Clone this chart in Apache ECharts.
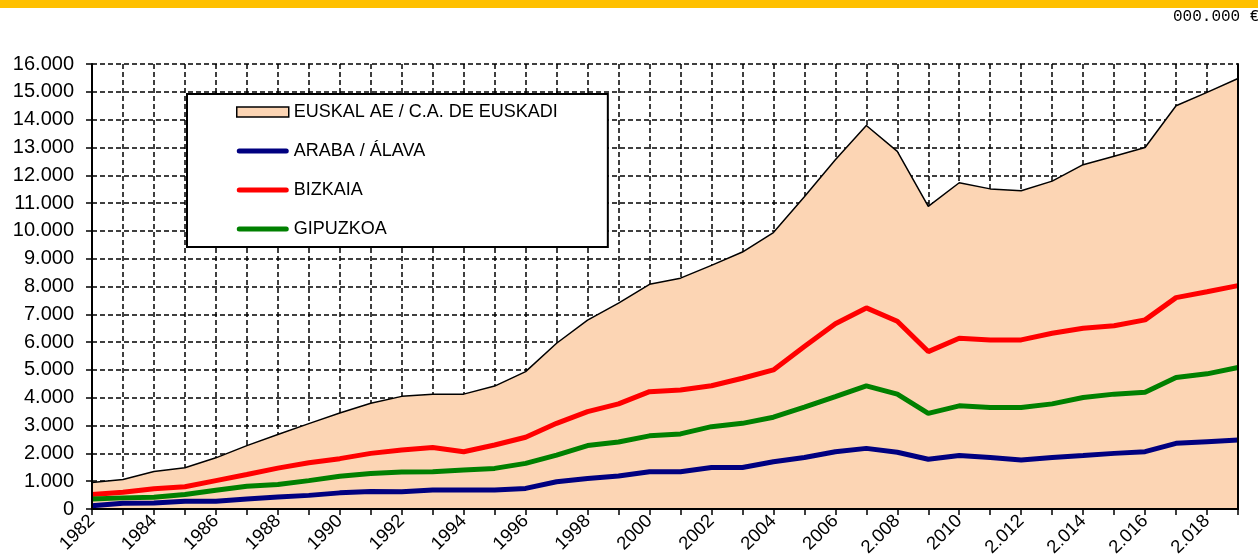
<!DOCTYPE html>
<html>
<head>
<meta charset="utf-8">
<script src="https://cdn.jsdelivr.net/npm/echarts@6/dist/echarts.min.js"></script>
<style>
html,body{margin:0;padding:0;background:#fff;}
#chart{width:1258px;height:560px;}
</style>
</head>
<body>
<div id="chart"></div>
<script>
// Categories (years) as displayed on the axis
var categories = ['1982','1983','1984','1985','1986','1987','1988','1989','1990','1991',
  '1992','1993','1994','1995','1996','1997','1998','1999','2000','2001',
  '2002','2003','2004','2005','2006','2007','2.008','2009','2010','2011',
  '2.012','2013','2.014','2015','2.016','2017','2.018','2019'];

var yTickLabels = ['0','1.000','2.000','3.000','4.000','5.000','6.000','7.000','8.000',
  '9.000','10.000','11.000','12.000','13.000','14.000','15.000','16.000'];

var seriesNames = ['EUSKAL AE / C.A. DE EUSKADI','ARABA / ÁLAVA','BIZKAIA','GIPUZKOA'];

var euskadi = [950,1060,1350,1480,1840,2280,2680,3070,3450,3800,
  4050,4130,4130,4420,4940,5960,6790,7400,8080,8300,
  8760,9240,9940,11230,12560,13790,12860,10880,11730,11510,
  11440,11790,12380,12680,13000,14500,14980,15480];

var araba = [120,210,215,280,280,360,430,490,580,630,
  620,680,680,680,740,980,1100,1190,1340,1340,
  1490,1490,1700,1850,2060,2180,2040,1790,1920,1850,
  1760,1850,1920,2000,2060,2360,2420,2480];

var bizkaia = [520,600,730,800,1020,1240,1470,1660,1810,2000,
  2120,2210,2060,2300,2580,3080,3500,3780,4220,4280,
  4430,4700,5000,5840,6660,7230,6750,5660,6140,6080,
  6080,6320,6500,6590,6800,7600,7810,8030];

var gipuzkoa = [360,400,420,520,675,820,880,1020,1180,1280,
  1330,1340,1400,1460,1640,1940,2280,2410,2630,2700,
  2960,3080,3300,3660,4040,4430,4130,3440,3710,3650,
  3650,3780,4010,4130,4200,4730,4860,5090];

var FONT = '"Liberation Sans", Arial, sans-serif';
var chart = echarts.init(document.getElementById('chart'), null, {renderer:'canvas'});

var dashed = {show:true, lineStyle:{color:'#000', width:1.5, type:[5,3]}};
var lineIcon = 'path://M2.5,0 L49.5,0 A2.5,2.5 0 0 1 49.5,5 L2.5,5 A2.5,2.5 0 0 1 2.5,0 Z';

var option = {
  animation:false,
  backgroundColor:'#fff',
  textStyle:{fontFamily:FONT, color:'#000'},
  graphic:[
    {type:'rect', left:0, top:0, shape:{width:1258, height:8}, style:{fill:'#FFC000'}},
    {type:'text', left:1173, top:9, style:{text:'000.000 €', font:'normal 16px "Liberation Mono", monospace', fill:'#000'}}
  ],
  grid:{left:92, right:20, top:64, bottom:51, containLabel:false},
  legend:{
    orient:'vertical', left:187, top:94,
    padding:[8,50,8,49],
    itemWidth:52, itemHeight:10, itemGap:19,
    borderColor:'#000', borderWidth:2, backgroundColor:'#fff',
    textStyle:{fontSize:18, color:'#000', fontFamily:FONT, lineHeight:20},
    data:[
      {name:seriesNames[0], icon:'rect', itemStyle:{color:'#FCD5B4', borderColor:'#000', borderWidth:1.5}},
      {name:seriesNames[1], icon:lineIcon, itemStyle:{color:'#000080'}},
      {name:seriesNames[2], icon:lineIcon, itemStyle:{color:'#FF0000'}},
      {name:seriesNames[3], icon:lineIcon, itemStyle:{color:'#008000'}}
    ]
  },
  xAxis:[
    {type:'category', data:categories, boundaryGap:false, position:'bottom', z:5,
      axisLine:{show:true, lineStyle:{color:'#000', width:2}},
      axisTick:{show:true, interval:0, length:6, lineStyle:{color:'#000', width:1.5}},
      axisLabel:{interval:1, rotate:45, fontSize:18.5, color:'#000', margin:9, fontFamily:FONT},
      splitLine:{show:false}},
    {type:'category', data:categories, boundaryGap:false, position:'top', z:0,
      axisLine:{show:true, lineStyle:{color:'#000', width:2}},
      axisTick:{show:false}, axisLabel:{show:false},
      splitLine:{show:true, interval:0, lineStyle:{color:'#000', width:1.5, type:[5,3]}}}
  ],
  yAxis:[
    {type:'value', min:0, max:16000, interval:1000, position:'left', z:5,
      axisLine:{show:true, lineStyle:{color:'#000', width:2}},
      axisTick:{show:true, length:6, lineStyle:{color:'#000', width:1.5}},
      axisLabel:{fontSize:20, color:'#000', margin:18, fontFamily:FONT,
        formatter:function(v){ return yTickLabels[Math.round(v/1000)]; }},
      splitLine:{show:false}},
    {type:'value', min:0, max:16000, interval:1000, position:'right', z:5,
      axisLine:{show:true, lineStyle:{color:'#000', width:2}},
      axisTick:{show:false}, axisLabel:{show:false}, splitLine:{show:false}},
    {type:'value', min:0, max:16000, interval:1000, position:'left', z:0,
      axisLine:{show:false}, axisTick:{show:false}, axisLabel:{show:false},
      splitLine:dashed}
  ],
  series:[
    {name:seriesNames[0], type:'line', data:euskadi, symbol:'none', z:2,
      lineStyle:{color:'#000', width:1.5},
      itemStyle:{color:'#FCD5B4', borderColor:'#000'},
      areaStyle:{color:'#FCD5B4', opacity:1}},
    {name:seriesNames[1], type:'line', data:araba, symbol:'none', z:3,
      lineStyle:{color:'#000080', width:5}, itemStyle:{color:'#000080'}},
    {name:seriesNames[2], type:'line', data:bizkaia, symbol:'none', z:3,
      lineStyle:{color:'#FF0000', width:5}, itemStyle:{color:'#FF0000'}},
    {name:seriesNames[3], type:'line', data:gipuzkoa, symbol:'none', z:3,
      lineStyle:{color:'#008000', width:5}, itemStyle:{color:'#008000'}}
  ]
};
chart.setOption(option);
</script>
</body>
</html>
